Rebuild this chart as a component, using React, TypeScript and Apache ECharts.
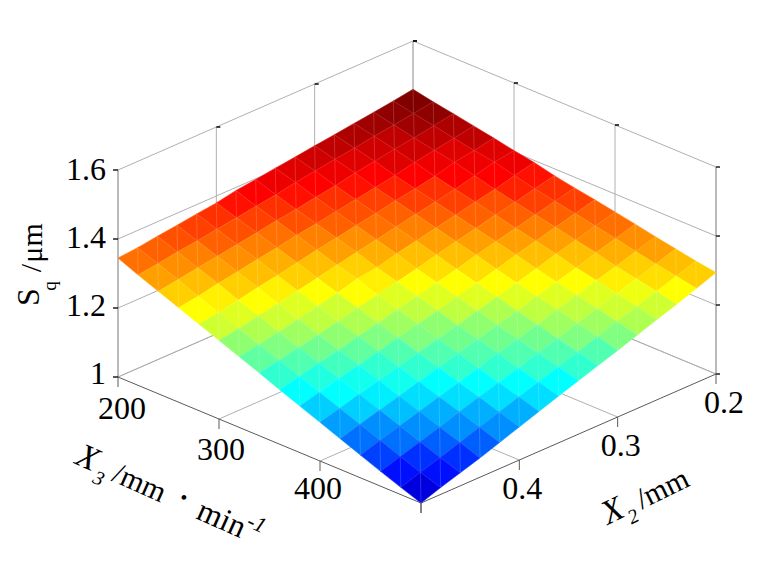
import React, { useEffect, useRef } from "react";
import * as echarts from "echarts";

const x3Ticks = [200, 300, 400, 500];
const x2Ticks = [0.2, 0.3, 0.4, 0.5];
const zTicks = [1, 1.2, 1.4, 1.6];
const x3Labels = ["200", "300", "400"];
const x2Labels = ["0.2", "0.3", "0.4"];
const zLabels = ["1", "1.2", "1.4", "1.6"];
const x3Values = [200, 220, 240, 260, 280, 300, 320, 340, 360, 380, 400, 420, 440, 460, 480, 500];
const x2Values = [0.2, 0.22, 0.24, 0.26, 0.28, 0.3, 0.32, 0.34, 0.36, 0.38, 0.4, 0.42, 0.44, 0.46, 0.48, 0.5];
// Sq, one row per x2 value, columns by x3 value
const sqRows = [
  [1.46, 1.448, 1.438, 1.427, 1.416, 1.404, 1.394, 1.38, 1.369, 1.359, 1.348, 1.337, 1.325, 1.314, 1.303, 1.294],
  [1.451, 1.439, 1.428, 1.416, 1.405, 1.396, 1.381, 1.367, 1.355, 1.344, 1.332, 1.32, 1.307, 1.295, 1.284, 1.273],
  [1.443, 1.431, 1.418, 1.406, 1.396, 1.381, 1.366, 1.353, 1.341, 1.329, 1.316, 1.304, 1.289, 1.277, 1.265, 1.252],
  [1.436, 1.423, 1.41, 1.396, 1.38, 1.367, 1.354, 1.341, 1.327, 1.314, 1.301, 1.285, 1.273, 1.259, 1.246, 1.233],
  [1.428, 1.414, 1.4, 1.383, 1.369, 1.355, 1.341, 1.327, 1.313, 1.299, 1.283, 1.269, 1.255, 1.241, 1.227, 1.213],
  [1.421, 1.406, 1.391, 1.373, 1.359, 1.344, 1.329, 1.314, 1.299, 1.282, 1.267, 1.252, 1.238, 1.223, 1.208, 1.193],
  [1.413, 1.397, 1.379, 1.363, 1.347, 1.332, 1.316, 1.3, 1.283, 1.267, 1.251, 1.235, 1.22, 1.204, 1.189, 1.174],
  [1.406, 1.389, 1.37, 1.353, 1.337, 1.32, 1.304, 1.285, 1.269, 1.252, 1.236, 1.219, 1.203, 1.187, 1.171, 1.155],
  [1.398, 1.378, 1.36, 1.343, 1.326, 1.309, 1.289, 1.272, 1.255, 1.237, 1.22, 1.203, 1.187, 1.168, 1.152, 1.136],
  [1.391, 1.37, 1.352, 1.334, 1.316, 1.297, 1.281, 1.259, 1.241, 1.223, 1.205, 1.187, 1.169, 1.151, 1.134, 1.116],
  [1.38, 1.361, 1.342, 1.323, 1.304, 1.284, 1.265, 1.246, 1.227, 1.208, 1.189, 1.171, 1.152, 1.134, 1.115, 1.096],
  [1.373, 1.353, 1.333, 1.314, 1.292, 1.272, 1.252, 1.232, 1.213, 1.193, 1.174, 1.155, 1.135, 1.116, 1.096, 1.076],
  [1.365, 1.344, 1.324, 1.303, 1.282, 1.26, 1.239, 1.219, 1.198, 1.179, 1.159, 1.138, 1.118, 1.097, 1.077, 1.056],
  [1.358, 1.337, 1.315, 1.294, 1.27, 1.249, 1.227, 1.206, 1.186, 1.166, 1.144, 1.122, 1.101, 1.079, 1.058, 1.038],
  [1.35, 1.328, 1.306, 1.282, 1.259, 1.237, 1.215, 1.194, 1.171, 1.15, 1.128, 1.106, 1.084, 1.061, 1.04, 1.02],
  [1.345, 1.32, 1.297, 1.274, 1.251, 1.228, 1.205, 1.182, 1.158, 1.135, 1.112, 1.089, 1.066, 1.043, 1.021, 1.0],
];

const FONT = "'Liberation Serif', 'Times New Roman', serif";
const GRID = "#b0b0b0";
const AXIS = "#5a5a5a";

// Orthographic view of the box, the same for every mark
function project(x3: number, x2: number, z: number): [number, number] {
  const u = (x3 - 200) / 300;
  const v = (x2 - 0.2) / 0.3;
  return [413 + 303 * u - 295 * v, 248 + 126 * u + 129 * v - 345 * (z - 1)];
}

function jet64(z: number, lo: number, hi: number): string {
  const idx = Math.min(63, Math.max(0, Math.floor(((z - lo) / (hi - lo)) * 64)));
  const t = (idx + 1) / 64;
  const ch = (c: number) => Math.round(255 * Math.max(0, Math.min(1, 1.5 - Math.abs(4 * t - c))));
  return `rgb(${ch(3)},${ch(2)},${ch(1)})`;
}

type Seg = [number, number, number, number, number, number, number, number, string, number];
// x3,x2,z to x3,x2,z, with a pixel offset at the far end, colour and width
function buildSegments(): Seg[] {
  const s: Seg[] = [];
  const add = (a: number[], b: number[], c: string, w = 1, dx = 0, dy = 0) =>
    s.push([a[0], a[1], a[2], b[0], b[1], b[2], dx, dy, c, w]);
  // floor lines
  x3Ticks.slice(0, 3).forEach((x) => add([x, 0.5, 1], [x, 0.2, 1], GRID));
  x2Ticks.slice(0, 3).forEach((y) => add([200, y, 1], [500, y, 1], GRID));
  // walls
  zTicks.forEach((z) => {
    add([200, 0.5, z], [200, 0.2, z], GRID);
    add([200, 0.2, z], [500, 0.2, z], GRID);
  });
  x3Ticks.forEach((x) => add([x, 0.2, 1], [x, 0.2, 1.6], x === 500 ? "#777" : GRID));
  x2Ticks.forEach((y) => add([200, y, 1], [200, y, 1.6], y === 0.5 ? "#777" : GRID));
  // front edges of the floor
  add([200, 0.5, 1], [500, 0.5, 1], AXIS);
  add([500, 0.5, 1], [500, 0.2, 1], AXIS);
  // ticks
  x3Ticks.forEach((x) => add([x, 0.5, 1], [x, 0.5, 1], AXIS, 1, 0, 10));
  x2Ticks.forEach((y) => add([500, y, 1], [500, y, 1], AXIS, 1, 0, 10));
  zTicks.forEach((z) => {
    add([200, 0.5, z], [200, 0.5, z], "#111", 1.4, -5, 0);
    add([500, 0.2, z], [500, 0.2, z], "#111", 1.4, 4, 0);
  });
  x3Ticks.slice(0, 3).forEach((x) => add([x, 0.2, 1.6], [x, 0.2, 1.6], "#111", 1.6, 4, 0));
  x2Ticks.slice(0, 3).forEach((y) => add([200, y, 1.6], [200, y, 1.6], "#111", 1.6, 4, 0));
  return s;
}

function buildCells(): number[][] {
  const cells: number[][] = [];
  for (let d = 0; d <= 28; d++) {
    for (let j = 0; j < 15; j++) {
      const i = d - j;
      if (i >= 0 && i < 15) cells.push([i, j]);
    }
  }
  return cells;
}

function text(t: string, x: number, y: number, size: number, extra: any = {}, rotation = 0) {
  return {
    type: "text",
    x,
    y,
    rotation,
    silent: true,
    style: {
      text: t,
      fontFamily: FONT,
      fontSize: size,
      fontStyle: extra.italic ? "italic" : "normal",
      fill: "#000",
      align: extra.align ?? "center",
      verticalAlign: "middle",
    },
  };
}

export default function App() {
  const ref = useRef<HTMLDivElement>(null);
  useEffect(() => {
    document.body.style.margin = "0";
    const chart = echarts.init(ref.current!, undefined, { renderer: "svg" });
    const flat = sqRows.flat();
    const lo = Math.min(...flat);
    const hi = Math.max(...flat);
    const rad = (d: number) => (d * Math.PI) / 180;
    const labels: any[] = [];
    const x3Dx = [4, 2, -2];
    const x3Dy = [31, 30, 27];
    const x2Dx = [8, 3, 3];
    x3Labels.forEach((l, k) => {
      const p = project(+l, 0.5, 1);
      labels.push(text(l, p[0] + x3Dx[k], p[1] + x3Dy[k], 32));
    });
    x2Labels.forEach((l, k) => {
      const p = project(500, +l, 1);
      labels.push(text(l, p[0] + x2Dx[k], p[1] + 28, 32));
    });
    zLabels.forEach((l) => {
      labels.push(text(l, 106, 169 + (1.6 - +l) * 340, 32, { align: "right" }));
    });
    labels.push(
      text("S", 28, 297, 32, {}, rad(90)),
      text("q", 49, 286, 19, {}, rad(90)),
      text("/", 30, 268, 30, {}, rad(90)),
      text("μm", 31, 243, 30, {}, rad(90)),
      text("X", 88, 457, 34, { italic: true }, rad(-24)),
      text("3", 99, 478, 20, { italic: true }, rad(-24)),
      text("/mm", 140, 482, 30, {}, rad(-24)),
      text("•", 184, 497, 20, {}, rad(-24)),
      text("min", 222, 518, 32, {}, rad(-24)),
      text("-1", 257, 523, 22, { italic: true }, rad(-24)),
      text("X", 612, 510, 34, { italic: true }, rad(26)),
      text("2", 633, 516, 20, { italic: true }, rad(26)),
      text("/mm", 662, 488, 30, {}, rad(26))
    );

    chart.setOption({
      animation: false,
      grid: { left: 0, right: 0, top: 0, bottom: 0 },
      xAxis: { type: "value", min: 0, max: 768, show: false },
      yAxis: { type: "value", min: 0, max: 567, inverse: true, show: false },
      graphic: { elements: labels },
      series: [
        {
          type: "custom",
          clip: false,
          silent: true,
          data: buildSegments(),
          encode: { x: [], y: [] },
          renderItem: (_p: any, api: any) => {
            const v = (n: number) => api.value(n);
            const a = project(v(0), v(1), v(2));
            const b = project(v(3), v(4), v(5));
            const ca = api.coord(a);
            const cb = api.coord([b[0] + v(6), b[1] + v(7)]);
            return {
              type: "line",
              shape: { x1: ca[0], y1: ca[1], x2: cb[0], y2: cb[1] },
              style: { stroke: v(8), lineWidth: v(9) },
            };
          },
          dimensions: ["a", "b", "c", "d", "e", "f", "g", "h", { name: "col", type: "ordinal" }, "w"],
          z: 1,
        },
        {
          type: "custom",
          clip: false,
          silent: true,
          data: buildCells(),
          encode: { x: [], y: [] },
          renderItem: (_p: any, api: any) => {
            const i = api.value(0);
            const j = api.value(1);
            const pt = (a: number, b: number) =>
              api.coord(project(x3Values[a], x2Values[b], sqRows[b][a]));
            const back = pt(i, j);
            const right = pt(i + 1, j);
            const front = pt(i + 1, j + 1);
            const left = pt(i, j + 1);
            const color = jet64(sqRows[j][i], lo, hi);
            return {
              type: "group",
              children: [
                {
                  type: "polygon",
                  shape: { points: [back, right, front, left] },
                  style: { fill: color, stroke: color, lineWidth: 0.6 },
                },
                {
                  type: "polygon",
                  shape: { points: [back, right, front, left] },
                  style: { fill: "none", stroke: "rgba(255,255,255,0.13)", lineWidth: 0.6 },
                },
                {
                  type: "line",
                  shape: { x1: back[0], y1: back[1], x2: front[0], y2: front[1] },
                  style: { stroke: "rgba(255,255,255,0.22)", lineWidth: 0.8 },
                },
              ],
            };
          },
          z: 2,
        },
      ],
    });
    return () => chart.dispose();
  }, []);
  return <div ref={ref} style={{ position: "absolute", left: 0, top: 0, width: 768, height: 567 }} />;
}
